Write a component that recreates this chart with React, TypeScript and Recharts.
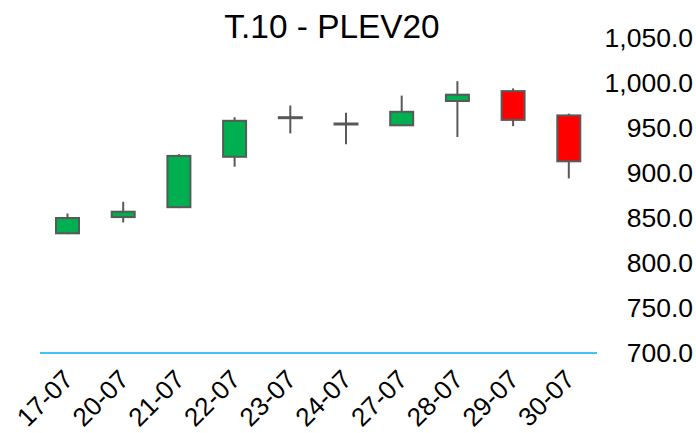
import React from 'react';
import { ComposedChart, Bar, XAxis, YAxis } from 'recharts';

const dates = ['17-07', '20-07', '21-07', '22-07', '23-07', '24-07', '27-07', '28-07', '29-07', '30-07'];
const opens = [833, 851, 862, 918, 962, 955, 953, 980, 991, 964];
const closes = [850, 857, 919, 958, 962, 955, 968, 987, 959, 913];
const highs = [855, 868, 921, 962, 975, 967, 986, 1002, 994, 966];
const lows = [832, 845, 861, 907, 944, 932, 953, 940, 952, 894];
const yTicks = [700, 750, 800, 850, 900, 950, 1000, 1050];

const data = dates.map((date, i) => ({
    date,
    open: opens[i],
    close: closes[i],
    high: highs[i],
    low: lows[i],
    range: [lows[i], highs[i]],
}));

const FONT = '"Liberation Sans", Arial, sans-serif';

// draws wick + body, using the bar's own pixel box for low..high
const Candle = (props: any) => {
    const { x, y, width, height, payload } = props;
    const { open, close, high, low } = payload;
    const ratio = height / (high - low);
    const cx = x + width / 2;
    const yOpen = y + (high - open) * ratio;
    const yClose = y + (high - close) * ratio;
    const top = Math.min(yOpen, yClose);
    const bodyH = Math.max(Math.abs(yOpen - yClose), 1);
    const up = close >= open;
    return (
        <g>
            <line x1={cx} x2={cx} y1={y} y2={y + height} stroke="#595959" strokeWidth={2} />
            <rect
                x={x}
                y={top}
                width={width}
                height={bodyH}
                fill={up ? '#00B050' : '#FF0000'}
                stroke="#595959"
                strokeWidth={2}
            />
        </g>
    );
};

const YTick = ({ y, payload }: any) => (
    <text x={693} y={y} textAnchor="end" dominantBaseline="central" fontSize={26.5} fill="#000" fontFamily={FONT}>
        {payload.value.toLocaleString('en-US', { minimumFractionDigits: 1, maximumFractionDigits: 1 })}
    </text>
);

const XTick = ({ x, y, payload }: any) => (
    <text
        x={x + 7}
        y={y + 20}
        textAnchor="end"
        fontSize={26}
        fill="#000"
        fontFamily={FONT}
        transform={`rotate(-45 ${x + 7} ${y + 20})`}
    >
        {payload.value}
    </text>
);

export default function App() {
    return (
        <div style={{ position: 'absolute', left: 0, top: 0, width: 696, height: 433, background: '#fff', overflow: 'hidden' }}>
            <div
                style={{
                    position: 'absolute',
                    left: 0,
                    width: 664,
                    top: 8,
                    textAlign: 'center',
                    fontFamily: FONT,
                    fontSize: 33.4,
                    lineHeight: '38px',
                    color: '#000',
                }}
            >
                T.10 - PLEV20
            </div>
            <ComposedChart width={696} height={433} data={data} margin={{ top: 38, right: 0, bottom: 0, left: 40 }}>
                <XAxis
                    dataKey="date"
                    axisLine={{ stroke: '#00B0F0', strokeWidth: 1.5 }}
                    tickLine={false}
                    tick={<XTick />}
                    height={80}
                    interval={0}
                />
                <YAxis
                    orientation="right"
                    domain={[700, 1050]}
                    ticks={yTicks}
                    axisLine={false}
                    tickLine={false}
                    tick={<YTick />}
                    width={99}
                />
                <Bar dataKey="range" barSize={23} shape={<Candle />} isAnimationActive={false} />
            </ComposedChart>
        </div>
    );
}
